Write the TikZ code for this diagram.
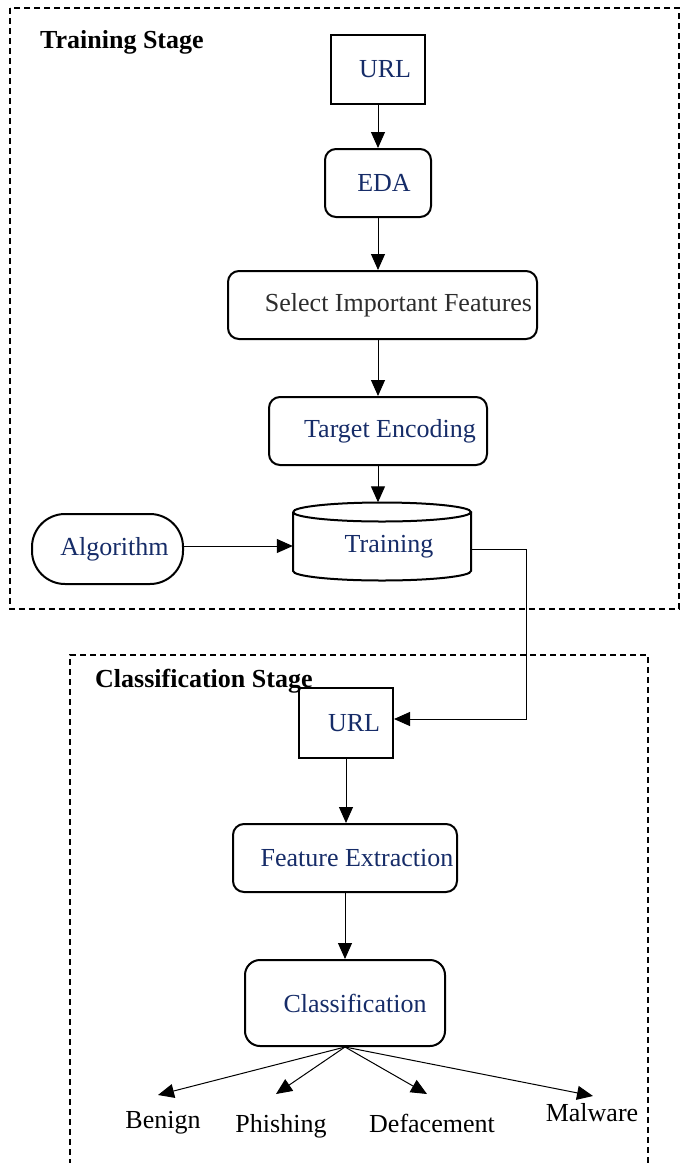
\documentclass[tikz,border=0pt]{standalone}
\usepackage{fontspec}
\setmainfont{Liberation Serif}
\usetikzlibrary{arrows.meta}
\definecolor{navytxt}{RGB}{22,44,104}
\definecolor{graytxt}{RGB}{45,45,45}
\begin{document}
\begin{tikzpicture}[x=1pt,y=-1pt,
  font=\fontsize{26}{30}\selectfont,
  box/.style={draw, line width=2pt, inner sep=0pt},
  rbox/.style={box, rounded corners=11pt},
  txt/.style={text=navytxt, inner sep=0pt},
  arr/.style={draw, line width=1pt, -{Triangle[length=16pt,width=14pt]}},
  stage/.style={draw, line width=1.3pt, dash pattern=on 6pt off 4pt},
  outlbl/.style={inner sep=0pt, text=black}]
\useasboundingbox (0,0) rectangle (686,1163);
% stage frames
\draw[stage] (10,8) rectangle (679,609);
\draw[stage] (70,1175) -- (70,655) -- (648,655) -- (648,1175);
\node[anchor=west, inner sep=0pt, font=\fontsize{26}{30}\selectfont\bfseries] (ts) at (40,42) {Training Stage};
\node[anchor=west, inner sep=0pt, font=\fontsize{26}{30}\selectfont\bfseries] (cs) at (95,681) {Classification Stage};
% training stage
\node[box, minimum width=94pt, minimum height=69pt,
  label={[txt, xshift=7pt]center:URL}] (url) at (378,69.5) {};
\node[rbox, minimum width=106pt, minimum height=68pt,
  label={[txt, xshift=6pt]center:EDA}] (eda) at (378,183) {};
\node[rbox, minimum width=309pt, minimum height=68pt,
  label={[inner sep=0pt, text=graytxt, xshift=16pt]center:Select Important Features}] (sel) at (382.5,305) {};
\node[rbox, minimum width=218pt, minimum height=68pt,
  label={[txt, xshift=12pt]center:Target Encoding}] (enc) at (378,431) {};
\node[minimum width=178pt, minimum height=78pt, inner sep=0pt,
  label={[txt, xshift=7pt, yshift=-5pt]center:Training}] (train) at (382,541.5) {};
\draw[line width=2pt] (293,512) arc[start angle=180, end angle=540, x radius=89pt, y radius=9.5pt]
  (293,512) -- (293,571) arc[start angle=180, end angle=360, x radius=89pt, y radius=9.5pt] -- (471,512);
\node[box, rounded corners=33pt, minimum width=151pt, minimum height=70pt,
  label={[txt, xshift=7pt]center:Algorithm}] (algo) at (107.5,549) {};
\draw[arr] (url) -- (eda);
\draw[arr] (eda) -- (eda |- sel.north);
\draw[arr] (sel.south -| eda) -- (enc.north -| eda);
\draw[arr] (enc.south -| eda) -- (train.north -| eda);
\draw[arr] ([yshift=3pt]algo.east) -- ([yshift=-4.5pt]train.west);
% classification stage
\node[box, minimum width=94pt, minimum height=70pt,
  label={[txt, xshift=8pt]center:URL}] (url2) at (346,723) {};
\node[rbox, minimum width=224pt, minimum height=68pt,
  label={[txt, xshift=12pt]center:Feature Extraction}] (fe) at (345,858) {};
\node[box, rounded corners=15pt, minimum width=200pt, minimum height=86pt,
  label={[txt, xshift=10pt]center:Classification}] (cls) at (345,1003) {};
\coordinate (bend) at (526,719);
\draw[arr] ([yshift=-8pt]train.east) -| (bend) -- (bend -| url2.east);
\draw[arr] (url2) -- (fe.north -| url2);
\draw[arr] (fe) -- (cls);
% outcomes
\node[outlbl] (ben) at (163,1123) {Benign};
\node[outlbl] (phi) at (281,1126) {Phishing};
\node[outlbl] (def) at (432,1123) {Defacement};
\node[outlbl] (mal) at (592,1113) {Malware};
\coordinate (tben) at (158,1095);
\coordinate (tphi) at (276,1094);
\coordinate (tdef) at (427,1094);
\coordinate (tmal) at (593,1096);
\draw[arr] (cls.south) -- (tben);
\draw[arr] (cls.south) -- (tphi);
\draw[arr] (cls.south) -- (tdef);
\draw[arr] (cls.south) -- (tmal);
\end{tikzpicture}
\end{document}
